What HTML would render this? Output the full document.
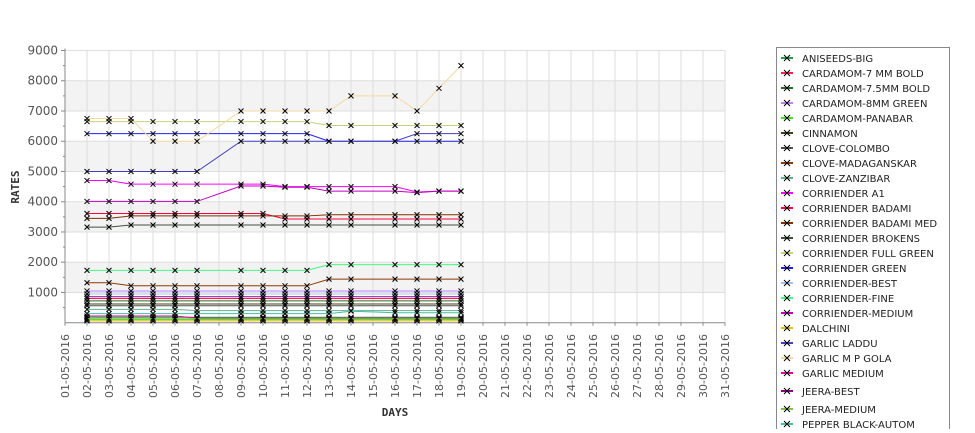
<!DOCTYPE html>
<html><head><meta charset="utf-8"><style>
body{margin:0;background:#fff;width:975px;height:429px;overflow:hidden;font-family:"DejaVu Sans","Liberation Sans",sans-serif}
</style></head><body>
<svg id="chart" width="975" height="429" xmlns="http://www.w3.org/2000/svg">
<g id="grid"></g>
<g id="axes"></g>
<g id="series"></g>
<text x="19" y="187" transform="rotate(-90 19 187)" text-anchor="middle" font-size="11" font-weight="bold" fill="#333" font-family="DejaVu Sans Mono,monospace">RATES</text>
<text x="395" y="416" text-anchor="middle" font-size="11" font-weight="bold" fill="#333" font-family="DejaVu Sans Mono,monospace">DAYS</text>
<g id="legend"></g>
</svg>
<script>
const days = [2,3,4,5,6,7,9,10,11,12,13,14,16,17,18,19];
const yTicks = [1000,2000,3000,4000,5000,6000,7000,8000,9000];
const xTickDays = Array.from({length:31},(_, i)=>i+1);
const seriesNames = ["ANISEEDS-BIG","CARDAMOM-7 MM BOLD","CARDAMOM-7.5MM BOLD","CARDAMOM-8MM GREEN","CARDAMOM-PANABAR","CINNAMON","CLOVE-COLOMBO","CLOVE-MADAGANSKAR","CLOVE-ZANZIBAR","CORRIENDER A1","CORRIENDER BADAMI","CORRIENDER BADAMI MED","CORRIENDER BROKENS","CORRIENDER FULL GREEN","CORRIENDER GREEN","CORRIENDER-BEST","CORRIENDER-FINE","CORRIENDER-MEDIUM","DALCHINI","GARLIC LADDU","GARLIC M P GOLA","GARLIC MEDIUM","JEERA-BEST","JEERA-MEDIUM","PEPPER BLACK-AUTOM"];
const seriesColors = ["#20a040","#ff2050","#2a6a2a","#c080ff","#40e020","#404010","#505050","#8b3a00","#60b090","#ff00ff","#ff0040","#803000","#405040","#c8d27a","#2020ff","#a0c0ff","#40ff80","#c000c0","#e0c000","#4040c0","#f3d9a0","#e000a0","#900090","#80c040","#40c0a0"];
const s_aniseeds = [180,180,180,180,180,180,180,180,180,180,180,180,180,180,180,180];
const s_card7 = [800,800,800,800,800,800,800,800,800,800,800,800,800,800,800,800];
const s_card75 = [720,720,720,720,720,720,720,720,720,720,720,720,720,720,720,720];
const s_card8 = [1050,1050,1050,1050,1050,1050,1050,1050,1050,1050,1050,1050,1050,1050,1050,1050];
const s_panabar = [100,100,100,100,100,100,100,100,100,100,100,100,100,100,100,100];
const s_cinnamon = [620,620,620,620,620,620,620,620,620,620,620,620,620,620,620,620];
const s_colombo = [560,560,560,560,560,560,560,560,560,560,560,560,560,560,560,560];
const s_madag = [1320,1320,1220,1220,1220,1220,1220,1220,1220,1220,1440,1440,1440,1440,1440,1440];
const s_zanzibar = [440,440,440,440,440,400,400,400,400,400,400,400,400,400,400,400];
const s_a1 = [4700,4700,4580,4580,4580,4580,4580,4580,4500,4500,4500,4500,4500,4320,4350,4350];
const s_badami = [3610,3610,3610,3610,3610,3610,3610,3610,3430,3430,3430,3430,3430,3430,3430,3430];
const s_badamiMed = [3450,3450,3530,3530,3530,3530,3530,3530,3530,3530,3570,3570,3570,3570,3570,3570];
const s_brokens = [3160,3160,3230,3230,3230,3230,3230,3230,3230,3230,3230,3230,3230,3230,3230,3230];
const s_fullGreen = [6650,6650,6650,6650,6650,6650,6650,6650,6650,6650,6520,6520,6520,6520,6520,6520];
const s_green = [6250,6250,6250,6250,6250,6250,6250,6250,6250,6250,6000,6000,6000,6000,6000,6000];
const s_best = [950,950,950,950,950,950,950,950,950,950,950,950,950,950,950,950];
const s_fine = [1730,1730,1730,1730,1730,1730,1730,1730,1730,1730,1920,1920,1920,1920,1920,1920];
const s_medium = [4010,4010,4010,4010,4010,4010,4520,4520,4480,4480,4350,4350,4350,4300,4350,4350];
const s_dalchini = [60,60,60,60,60,60,60,60,60,60,60,60,60,60,60,60];
const s_laddu = [5000,5000,5000,5000,5000,5000,6000,6000,6000,6000,6000,6000,6000,6250,6250,6250];
const s_mpGola = [6750,6750,6750,6000,6000,6000,7000,7000,7000,7000,7000,7500,7500,7000,7750,8500];
const s_garlicMed = [220,220,220,220,220,150,150,150,150,150,150,150,150,150,150,150];
const s_jeeraBest = [860,860,860,860,860,860,860,860,860,860,860,860,860,860,860,860];
const s_jeeraMed = [130,130,130,130,130,130,130,130,130,130,130,130,130,130,130,130];
const s_pepper = [300,300,300,300,300,300,300,300,300,300,300,380,330,330,330,330];
const allSeries = [s_aniseeds,s_card7,s_card75,s_card8,s_panabar,s_cinnamon,s_colombo,s_madag,s_zanzibar,s_a1,s_badami,s_badamiMed,s_brokens,s_fullGreen,s_green,s_best,s_fine,s_medium,s_dalchini,s_laddu,s_mpGola,s_garlicMed,s_jeeraBest,s_jeeraMed,s_pepper];

const NS="http://www.w3.org/2000/svg";
const X0=65, X1=725, Y0=322.7, Y1=50.5, YMAX=9000;
const xs=d=>X0+(d-1)*(X1-X0)/30;
const ys=v=>Y0-(v/YMAX)*(Y0-Y1);
function mk(tag,attrs,parent){const e=document.createElementNS(NS,tag);for(const k in attrs)e.setAttribute(k,attrs[k]);parent.appendChild(e);return e;}
const grid=document.getElementById('grid'), axes=document.getElementById('axes'), ser=document.getElementById('series'), leg=document.getElementById('legend');
for(let b=1000;b<YMAX;b+=2000){
  const r=mk('rect',{x:X0,y:ys(b+1000),width:X1-X0,height:ys(b)-ys(b+1000),fill:'#f3f3f3'},grid);
  
  
}
xTickDays.forEach(d=>{
  const l=mk('line',{x1:xs(d),x2:xs(d),y1:Y1,y2:Y0,stroke:'#dedede','stroke-width':1},grid);
  
  
});
yTicks.forEach(v=>{
  const l=mk('line',{x1:X0,x2:X1,y1:ys(v),y2:ys(v),stroke:'#dedede','stroke-width':1},grid);
  
  
  const t=mk('text',{x:58,y:ys(v)+4,'text-anchor':'end','font-size':12,fill:'#555'},axes);
  t.textContent=v;
  
  
  mk('line',{x1:X0-4,x2:X0,y1:ys(v),y2:ys(v),stroke:'#888'},axes);
  mk('line',{x1:X0-2,x2:X0,y1:ys(v-500),y2:ys(v-500),stroke:'#888'},axes);
});
mk('line',{x1:X0,x2:X0,y1:Y1-2,y2:Y0,stroke:'#888'},axes);
mk('line',{x1:X0,x2:X1,y1:Y0,y2:Y0,stroke:'#888'},axes);
xTickDays.forEach(d=>{
  mk('line',{x1:xs(d),x2:xs(d),y1:Y0,y2:Y0+3,stroke:'#888'},axes);
  const lab=String(d).padStart(2,'0')+'-05-2016';
  const x=xs(d)+4, y=334;
  const t=mk('text',{x:x,y:y,transform:`rotate(-90 ${x} ${y})`,'text-anchor':'end','font-size':11,fill:'#555'},axes);
  t.textContent=lab;
  
  
});
allSeries.forEach((vals,i)=>{
  const g=mk('g',{},ser);
  
  
  const pts=vals.map((v,j)=>xs(days[j])+','+ys(v)).join(' ');
  const pl=mk('polyline',{points:pts,fill:'none',stroke:seriesColors[i],'stroke-width':1},g);
  
  
  vals.forEach((v,j)=>{
    const x=xs(days[j]),y=ys(v);
    const p=mk('path',{d:`M${x-2.5},${y-2.5}L${x+2.5},${y+2.5}M${x-2.5},${y+2.5}L${x+2.5},${y-2.5}`,stroke:'#000','stroke-width':1},g);
    
    
  });
});
const lb=mk('rect',{x:776.5,y:47.5,width:173,height:400,fill:'#fff',stroke:'#888'},leg);


const legendY=[58,73,88,103,118,133,148,163,178,193,208,223,238,253,268,283,298,313,328,343,358,373,391,409,424];
seriesNames.forEach((n,i)=>{
  const g=mk('g',{},leg);
  
  
  const y=legendY[i];
  mk('line',{x1:781,x2:793,y1:y,y2:y,stroke:seriesColors[i],'stroke-width':2},g);
  mk('path',{d:`M${784},${y-3}L${790},${y+3}M${784},${y+3}L${790},${y-3}`,stroke:'#000','stroke-width':1},g);
  const t=mk('text',{x:802,y:y+4,'font-size':10,fill:'#222'},g);
  t.textContent=n;
});
</script>
</body></html>
